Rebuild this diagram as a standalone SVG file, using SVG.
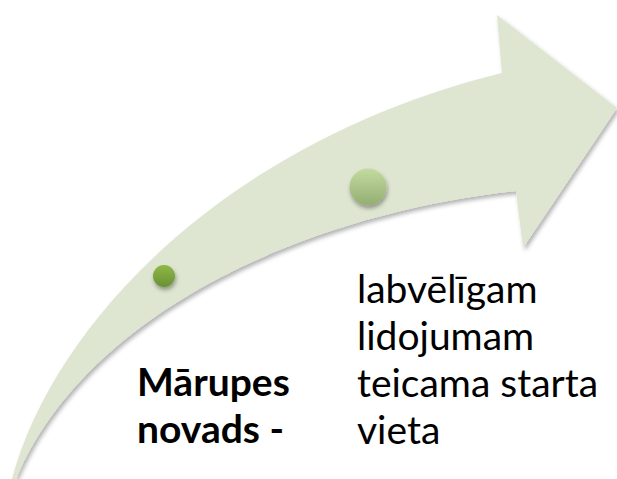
<svg xmlns="http://www.w3.org/2000/svg" width="617" height="479" viewBox="0 0 617 479">
  <style>
    .lbl { font-family: "Lato", "Liberation Sans", sans-serif; font-size: 39px; fill: #000; }
    .bold { font-weight: bold; }
  </style>
  <defs>
    <filter id="shadow" x="-10%" y="-10%" width="120%" height="120%">
      <feDropShadow dx="2" dy="3" stdDeviation="2" flood-color="#000" flood-opacity="0.3"/>
    </filter>
    <filter id="dotShadow" x="-50%" y="-50%" width="200%" height="200%">
      <feDropShadow dx="1" dy="3" stdDeviation="2" flood-color="#000" flood-opacity="0.35"/>
    </filter>
    <linearGradient id="gSmall" x1="0" y1="0" x2="0" y2="1">
      <stop offset="0" stop-color="#8fb84a"/>
      <stop offset="1" stop-color="#6a9132"/>
    </linearGradient>
    <linearGradient id="gBig" x1="0" y1="0" x2="0" y2="1">
      <stop offset="0" stop-color="#c4db9f"/>
      <stop offset="1" stop-color="#93ad72"/>
    </linearGradient>
  </defs>
  <g id="arrow">
    <path d="M 12 479 C 55 320, 230 140, 502 73 L 497 15 L 617 108 L 523 248 L 516 191 C 300 215, 85 315, 16 479 Z" fill="#dee6d1" filter="url(#shadow)"/>
  </g>
  <g id="dot1">
    <circle cx="164" cy="276" r="11" fill="url(#gSmall)" filter="url(#dotShadow)"/>
  </g>
  <g id="dot2">
    <circle cx="368" cy="187" r="18.5" fill="url(#gBig)" filter="url(#dotShadow)"/>
  </g>
  <g id="label1">
    <text class="lbl bold" x="137" y="396">Mārupes</text>
    <text class="lbl bold" x="137" y="443">novads -</text>
  </g>
  <g id="label2">
    <text class="lbl" x="357" y="303">labvēlīgam</text>
    <text class="lbl" x="357" y="350">lidojumam</text>
    <text class="lbl" x="357" y="397">teicama starta</text>
    <text class="lbl" x="357" y="444">vieta</text>
  </g>
  <g id="connectors"/>
</svg>
